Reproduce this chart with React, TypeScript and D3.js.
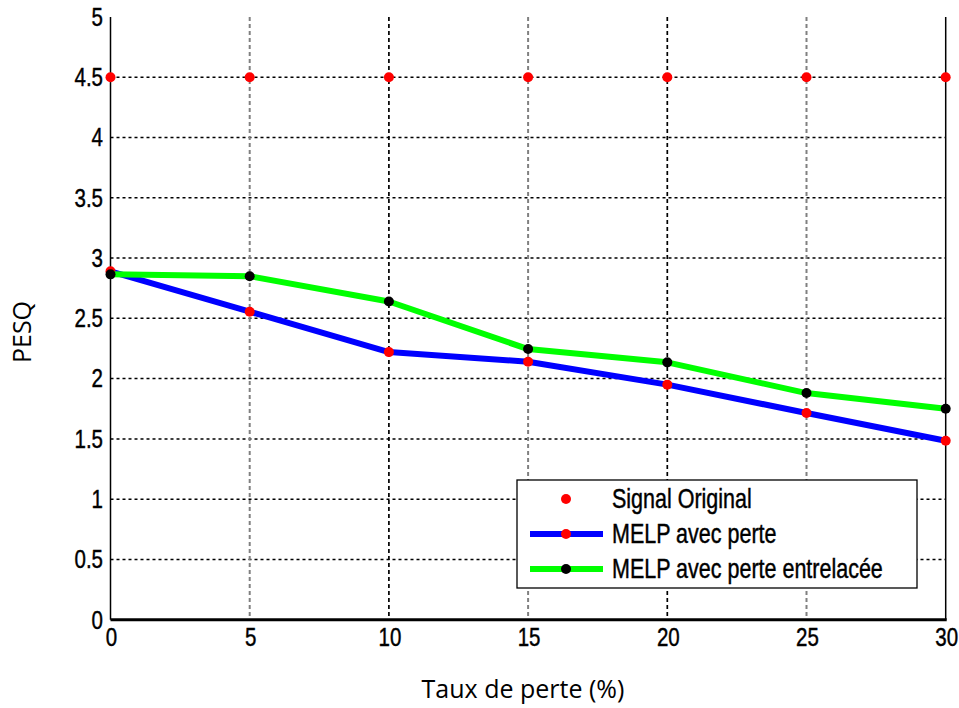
import React from "react";
import * as d3 from "d3";

const taux = [0, 5, 10, 15, 20, 25, 30];
const signalOriginal = [4.5, 4.5, 4.5, 4.5, 4.5, 4.5, 4.5];
const melpPerte = [2.89, 2.555, 2.22, 2.14, 1.95, 1.715, 1.485];
const melpEntrelacee = [2.865, 2.85, 2.64, 2.245, 2.135, 1.88, 1.75];
const xTicks = [0, 5, 10, 15, 20, 25, 30];
const yTicks = [0, 0.5, 1, 1.5, 2, 2.5, 3, 3.5, 4, 4.5, 5];
const yTickLabels = ["0", "0.5", "1", "1.5", "2", "2.5", "3", "3.5", "4", "4.5", "5"];
const legendLabels = ["Signal Original", "MELP avec perte", "MELP avec perte entrelacée"];

const W = 959, H = 708;
const left = 110.5, right = 945.7, top = 17, bottom = 619.7;
const SY = 1.25;
const tickFont = "'Liberation Sans', Arial, sans-serif";

function STxt(props: { x: number; y: number; anchor?: string; size: number; children: React.ReactNode }) {
  return (
    <g transform={`translate(${props.x},${props.y}) scale(1,${SY})`}>
      <text x={0} y={0} textAnchor={props.anchor || "start"} fontFamily={tickFont} fontSize={props.size} fill="#000" stroke="#000" strokeWidth={0.35} dominantBaseline="central">
        {props.children}
      </text>
    </g>
  );
}

export default function App() {
  const x = d3.scaleLinear().domain([0, 30]).range([left, right]);
  const y = d3.scaleLinear().domain([0, 5]).range([bottom, top]);
  const line = d3.line<number>().x((_, i) => x(taux[i])).y((d) => y(d));

  const grayX = new Set([5, 15, 25]);
  const lg = { x0: 517, y0: 480, x1: 917, y1: 588 };
  const rows = [499, 534, 569];

  return (
    <svg width={W} height={H} style={{ position: "absolute", left: 0, top: 0, background: "#fff" }}>
      <rect x={0} y={0} width={W} height={H} fill="#fff" />
      {/* grid */}
      {yTicks.filter((t) => t > 0 && t < 5).map((t) => (
        <line key={"gy" + t} x1={left} x2={right} y1={y(t)} y2={y(t)} stroke="#000" strokeWidth={1.5} strokeDasharray="3,3" />
      ))}
      {xTicks.filter((t) => t > 0 && t < 30).map((t) => (
        <line key={"gx" + t} x1={x(t)} x2={x(t)} y1={top} y2={bottom} stroke={grayX.has(t) ? "#808080" : "#000"} strokeWidth={grayX.has(t) ? 2 : 1.7} strokeDasharray="4,3" />
      ))}
      {/* axes */}
      <line x1={left} x2={left} y1={top} y2={bottom} stroke="#000" strokeWidth={1.5} />
      <line x1={right} x2={right} y1={top} y2={bottom} stroke="#000" strokeWidth={1.5} />
      <line x1={left} x2={right + 1} y1={bottom} y2={bottom} stroke="#000" strokeWidth={3} />
      {/* tick labels */}
      {yTicks.map((t, i) => (
        <STxt key={"yl" + t} x={103} y={y(t)} anchor="end" size={20.5}>{yTickLabels[i]}</STxt>
      ))}
      {xTicks.map((t) => (
        <STxt key={"xl" + t} x={x(t) + 1} y={637} anchor="middle" size={20.5}>{String(t)}</STxt>
      ))}
      {/* series */}
      {signalOriginal.map((v, i) => (
        <circle key={"so" + i} cx={x(taux[i])} cy={y(v)} r={5} fill="#ff0000" />
      ))}
      <path d={line(melpPerte) || ""} fill="none" stroke="#0000ff" strokeWidth={6} strokeLinejoin="round" />
      {melpPerte.map((v, i) => (
        <circle key={"mp" + i} cx={x(taux[i])} cy={y(v)} r={5} fill="#ff0000" />
      ))}
      <path d={line(melpEntrelacee) || ""} fill="none" stroke="#00ff00" strokeWidth={6} strokeLinejoin="round" />
      {melpEntrelacee.map((v, i) => (
        <circle key={"me" + i} cx={x(taux[i])} cy={y(v)} r={5} fill="#000" />
      ))}
      {/* legend */}
      <rect x={lg.x0} y={lg.y0} width={lg.x1 - lg.x0} height={lg.y1 - lg.y0} fill="#fff" stroke="#000" strokeWidth={1.3} />
      <circle cx={566} cy={rows[0]} r={5} fill="#ff0000" />
      <line x1={530} x2={603} y1={rows[1]} y2={rows[1]} stroke="#0000ff" strokeWidth={6} />
      <circle cx={566} cy={rows[1]} r={5} fill="#ff0000" />
      <line x1={530} x2={603} y1={rows[2]} y2={rows[2]} stroke="#00ff00" strokeWidth={6} />
      <circle cx={566} cy={rows[2]} r={5} fill="#000" />
      <STxt x={612} y={rows[0]} size={21.5}>{legendLabels[0]}</STxt>
      <STxt x={612} y={rows[1]} size={21.5}>{legendLabels[1]}</STxt>
      <STxt x={612} y={rows[2]} size={21.5}>{legendLabels[2]}</STxt>
      {/* axis titles */}
      <text x={523} y={698} textAnchor="middle" fontFamily="'Open Sans', 'Noto Sans', sans-serif" fontSize={25} fill="#000">Taux de perte (%)</text>
      <text transform={`translate(31,332) rotate(-90)`} textAnchor="middle" fontFamily="'Open Sans', 'Noto Sans', sans-serif" fontSize={25} fill="#000">PESQ</text>
    </svg>
  );
}
